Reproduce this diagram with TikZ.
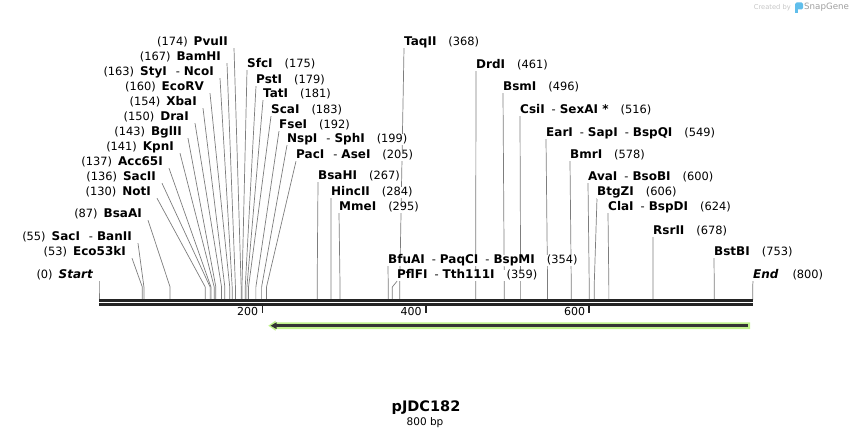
\documentclass[tikz,border=0pt]{standalone}
\usepackage{fontspec}
\setmainfont{DejaVu Sans}
\usetikzlibrary{backgrounds}

\definecolor{cutgray}{RGB}{125,125,125}
\definecolor{seqblack}{RGB}{36,36,36}
\definecolor{featgreen}{RGB}{192,242,140}
\definecolor{featdark}{RGB}{52,52,52}
\definecolor{logoblue}{RGB}{96,190,235}
\newcommand{\enz}[1]{{\fontsize{12}{13}\selectfont\bfseries #1}}

\begin{document}
\begin{tikzpicture}[x=1pt,y=-1pt,
  every node/.style={inner sep=0pt},
  lft/.style={anchor=base east, fill=white, font=\fontsize{11.4}{13}\selectfont},
  rgt/.style={anchor=base west, fill=white, font=\fontsize{11.4}{13}\selectfont},
  cutline/.style={draw=cutgray, line width=0.7pt},
  seqline/.style={draw=seqblack, line width=2.4pt},
  tickmark/.style={draw=seqblack, line width=1.6pt},
  ticklabel/.style={anchor=base east, font=\fontsize{11}{13}\selectfont}]
\useasboundingbox (0,0) rectangle (852,438);

\foreach \p in {0,53,55,87,130,136,137,141,143,150,154,160,163,167,174,175,179,181,183,192,199,205,267,284,295,354,359,368,461,496,516,549,578,600,606,624,678,753,800}
  \coordinate (s\p) at ({99+0.8171*\p},287);
\coordinate (base) at (0,300);

% sites written left of the line
\node[lft] (PvuII) at (228,46) {(174)\hspace{6pt}\enz{PvuII}};
\node[lft] (BamHI) at (221,61) {(167)\hspace{6pt}\enz{BamHI}};
\node[lft] (StyI) at (214,76) {(163)\hspace{6pt}\enz{StyI}\hspace{9pt}-\hspace{4pt}\enz{NcoI}};
\node[lft] (EcoRV) at (204,91) {(160)\hspace{6pt}\enz{EcoRV}};
\node[lft] (XbaI) at (197,106) {(154)\hspace{6pt}\enz{XbaI}};
\node[lft] (DraI) at (189,121) {(150)\hspace{6pt}\enz{DraI}};
\node[lft] (BglII) at (182,136) {(143)\hspace{6pt}\enz{BglII}};
\node[lft] (KpnI) at (174,151) {(141)\hspace{6pt}\enz{KpnI}};
\node[lft] (Acc65I) at (163,166) {(137)\hspace{6pt}\enz{Acc65I}};
\node[lft] (SacII) at (156,181) {(136)\hspace{6pt}\enz{SacII}};
\node[lft] (NotI) at (151,196) {(130)\hspace{6pt}\enz{NotI}};
\node[lft] (BsaAI) at (142,218) {(87)\hspace{6pt}\enz{BsaAI}};
\node[lft] (SacI) at (132,241) {(55)\hspace{6pt}\enz{SacI}\hspace{9pt}-\hspace{4pt}\enz{BanII}};
\node[lft] (Eco53kI) at (126,256) {(53)\hspace{6pt}\enz{Eco53kI}};
\node[lft] (Start) at (93,279) {(0)\hspace{6pt}\enz{\itshape Start}};

% sites written right of the line
\node[rgt] (SfcI) at (247,68) {\enz{SfcI}\hspace{12pt}(175)};
\node[rgt] (PstI) at (256,84) {\enz{PstI}\hspace{12pt}(179)};
\node[rgt] (TatI) at (263,98) {\enz{TatI}\hspace{12pt}(181)};
\node[rgt] (ScaI) at (271,114) {\enz{ScaI}\hspace{12pt}(183)};
\node[rgt] (FseI) at (279,129) {\enz{FseI}\hspace{12pt}(192)};
\node[rgt] (NspI) at (287,143) {\enz{NspI}\hspace{9pt}-\hspace{4pt}\enz{SphI}\hspace{12pt}(199)};
\node[rgt] (PacI) at (296,159) {\enz{PacI}\hspace{9pt}-\hspace{4pt}\enz{AseI}\hspace{12pt}(205)};
\node[rgt] (BsaHI) at (318,180) {\enz{BsaHI}\hspace{12pt}(267)};
\node[rgt] (HincII) at (331,196) {\enz{HincII}\hspace{12pt}(284)};
\node[rgt] (MmeI) at (339,211) {\enz{MmeI}\hspace{12pt}(295)};
\node[rgt] (TaqII) at (404,46) {\enz{TaqII}\hspace{12pt}(368)};
\node[rgt] (BfuAI) at (388,264) {\enz{BfuAI}\hspace{7pt}-\hspace{4pt}\enz{PaqCI}\hspace{7pt}-\hspace{4pt}\enz{BspMI}\hspace{12pt}(354)};
\node[rgt] (PflFI) at (397,279) {\enz{PflFI}\hspace{7pt}-\hspace{4pt}\enz{Tth111I}\hspace{12pt}(359)};
\node[rgt] (DrdI) at (476,69) {\enz{DrdI}\hspace{12pt}(461)};
\node[rgt] (BsmI) at (503,91) {\enz{BsmI}\hspace{12pt}(496)};
\node[rgt] (CsiI) at (520,114) {\enz{CsiI}\hspace{7pt}-\hspace{4pt}\enz{SexAI *}\hspace{12pt}(516)};
\node[rgt] (EarI) at (546,137) {\enz{EarI}\hspace{7pt}-\hspace{4pt}\enz{SapI}\hspace{7pt}-\hspace{4pt}\enz{BspQI}\hspace{12pt}(549)};
\node[rgt] (BmrI) at (570,159) {\enz{BmrI}\hspace{12pt}(578)};
\node[rgt] (AvaI) at (588,181) {\enz{AvaI}\hspace{7pt}-\hspace{4pt}\enz{BsoBI}\hspace{12pt}(600)};
\node[rgt] (BtgZI) at (597,196) {\enz{BtgZI}\hspace{12pt}(606)};
\node[rgt] (ClaI) at (608,211) {\enz{ClaI}\hspace{7pt}-\hspace{4pt}\enz{BspDI}\hspace{12pt}(624)};
\node[rgt] (RsrII) at (653,235) {\enz{RsrII}\hspace{12pt}(678)};
\node[rgt] (BstBI) at (714,256) {\enz{BstBI}\hspace{12pt}(753)};
\node[rgt] (End) at (753,279) {\enz{\itshape End}\hspace{14pt}(800)};

\begin{scope}[on background layer]
\foreach \n/\p in {PvuII/174,BamHI/167,StyI/163,EcoRV/160,XbaI/154,DraI/150,BglII/143,KpnI/141,Acc65I/137,SacII/136,NotI/130,BsaAI/87,SacI/55,Eco53kI/53,Start/0}
  \draw[cutline] ([shift={(6pt,-2.2pt)}]\n.base east) -- (s\p) -- (s\p |- base);
\foreach \n/\p in {SfcI/175,PstI/179,TatI/181,ScaI/183,FseI/192,NspI/199,PacI/205,BsaHI/267,HincII/284,MmeI/295,TaqII/368,BfuAI/354,PflFI/359,DrdI/461,BsmI/496,CsiI/516,EarI/549,BmrI/578,AvaI/600,BtgZI/606,ClaI/624,RsrII/678,BstBI/753,End/800}
  \draw[cutline] ([yshift=-2.2pt]\n.base west) -- (s\p) -- (s\p |- base);
\end{scope}

\draw[seqline] (s0 |- 0,300.5) -- (s800 |- 0,300.5);
\draw[seqline] (s0 |- 0,304.5) -- (s800 |- 0,304.5);

\foreach \t in {200,400,600}{
  \coordinate (t\t) at ({99+0.8171*\t},305.5);
  \draw[tickmark] (t\t) -- ++(0,7.5);
  \node[ticklabel] (l\t) at ([xshift=-4pt,yshift=-10.5pt]t\t) {\t};
}

\coordinate (featL) at (268.3,325.7);
\coordinate (featR) at (750,325.7);
\fill[featgreen] (featL) -- ++(7.2,-5) -- ++(0,1.6) -- (featR |- 0,322.3) -- (featR |- 0,329.1) -- ++(-474.5,0) -- ++(0,1.6) -- cycle;
\draw[featdark, line width=2.6pt] ([xshift=-2.3pt]featR) -- ([xshift=6pt]featL);
\fill[featdark] ([xshift=2.3pt]featL) -- ++(6,-3.4) -- ++(0,6.8) -- cycle;

\node[anchor=base, font=\fontsize{14.5}{16}\selectfont\bfseries] (title) at (426,412) {pJDC182};
\node[anchor=base, font=\fontsize{10.5}{12}\selectfont] (size) at (425,426) {800 bp};

\node[anchor=east, font=\fontsize{6.7}{8}\selectfont, text=gray!45] (credit) at (791,7.5) {Created by};
\fill[logoblue, rounded corners=1.5pt] (795,2.5) rectangle (803,9.5);
\fill[logoblue] (795,6) rectangle (798,13);
\node[anchor=west, font=\fontsize{8.7}{10}\selectfont, text=gray!75] (brand) at (804,7.5) {SnapGene};
\end{tikzpicture}
\end{document}
